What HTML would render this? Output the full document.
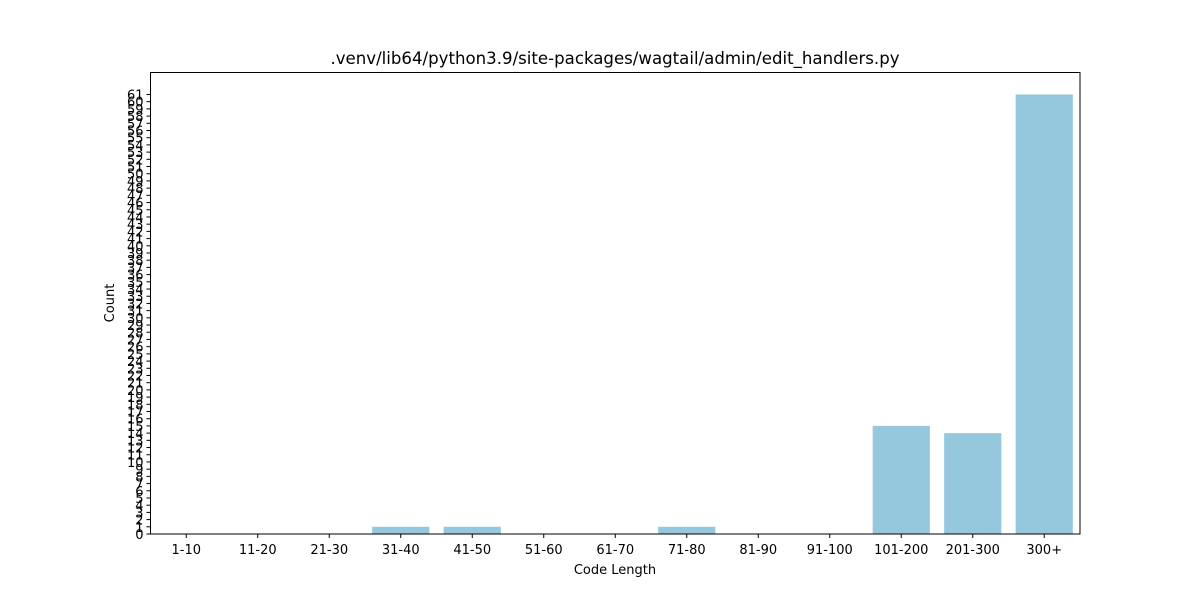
<!DOCTYPE html>
<html><head><meta charset="utf-8"><style>
body{margin:0;background:#fff;}
svg text{font-family:"DejaVu Sans","Liberation Sans",sans-serif;fill:#000;}
</style></head><body>
<svg id="chart" width="1200" height="600" xmlns="http://www.w3.org/2000/svg">
<text x="615" y="64" font-size="16.6" text-anchor="middle">.venv/lib64/python3.9/site-packages/wagtail/admin/edit_handlers.py</text>
<text x="615" y="574" font-size="13" text-anchor="middle">Code Length</text>
<text x="114" y="303" font-size="13" text-anchor="middle" transform="rotate(-90 114 303)">Count</text>
<g id="bars"></g><g id="ticks"></g>
<rect x="150.5" y="72.5" width="929.5" height="461.5" fill="none" stroke="#000" stroke-width="1"/>
</svg>
<script>
const categories=["1-10","11-20","21-30","31-40","41-50","51-60","61-70","71-80","81-90","91-100","101-200","201-300","300+"];
const counts=[0,0,0,1,1,0,0,1,0,0,15,14,61];
const yMax=61;
const L=150.5,R=1080,T=72.5,B=534;
const n=categories.length, ymaxAxis=Math.max(...counts)*1.05||1;
const xs=i=>L+(i+0.5)*(R-L)/n;
const ys=v=>B-v*(B-T)/ymaxAxis;
const NS="http://www.w3.org/2000/svg";
const bars=document.getElementById('bars'),ticks=document.getElementById('ticks');
const bw=0.8*(R-L)/n;
counts.forEach((v,i)=>{
 const r=document.createElementNS(NS,'rect');
 
 
 r.setAttribute('x',xs(i)-bw/2);r.setAttribute('width',bw);
 r.setAttribute('y',ys(v));r.setAttribute('height',B-ys(v));
 r.setAttribute('fill','#95c8dc');bars.appendChild(r);
 const l=document.createElementNS(NS,'line');
 
 
 l.setAttribute('x1',xs(i));l.setAttribute('x2',xs(i));l.setAttribute('y1',B);l.setAttribute('y2',B+4);l.setAttribute('stroke','#000');ticks.appendChild(l);
 const t=document.createElementNS(NS,'text');
 
 
 t.setAttribute('x',xs(i));t.setAttribute('y',B+20);t.setAttribute('font-size','13');t.setAttribute('text-anchor','middle');t.textContent=categories[i];ticks.appendChild(t);
});
for(let v=0;v<=yMax;v++){
 const y=ys(v);
 const l=document.createElementNS(NS,'line');
 
 
 l.setAttribute('x1',L-4);l.setAttribute('x2',L);l.setAttribute('y1',y);l.setAttribute('y2',y);l.setAttribute('stroke','#000');ticks.appendChild(l);
 const t=document.createElementNS(NS,'text');
 
 
 t.setAttribute('x',L-7);t.setAttribute('y',y+5);t.setAttribute('font-size','13');t.setAttribute('text-anchor','end');t.textContent=v;ticks.appendChild(t);
}
</script>
</body></html>
